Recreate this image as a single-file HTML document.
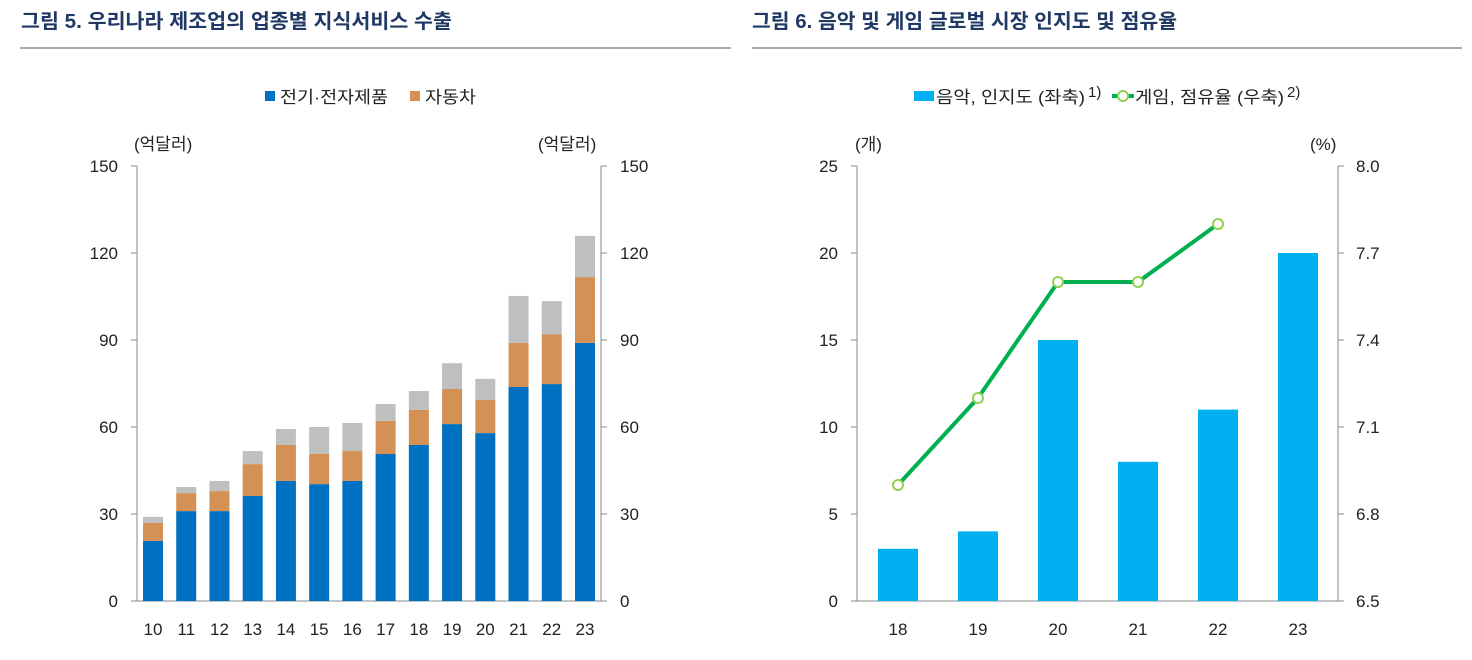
<!DOCTYPE html>
<html><head><meta charset="utf-8"><style>
body{margin:0;background:#fff;width:1472px;height:655px;overflow:hidden;font-family:"Liberation Sans","Noto Sans CJK KR",sans-serif}
svg text{font-family:"Liberation Sans","Noto Sans CJK KR",sans-serif}
</style></head><body>
<svg width="1472" height="655">
<text x="21" y="28" font-size="20" font-weight="bold" fill="#1f3864" textLength="431" lengthAdjust="spacingAndGlyphs">그림 5. 우리나라 제조업의 업종별 지식서비스 수출</text>
<line x1="20" y1="48" x2="731" y2="48" stroke="#555" stroke-width="1"/>
<text x="752" y="28" font-size="20" font-weight="bold" fill="#1f3864" textLength="425" lengthAdjust="spacingAndGlyphs">그림 6. 음악 및 게임 글로벌 시장 인지도 및 점유율</text>
<line x1="752" y1="48" x2="1462" y2="48" stroke="#555" stroke-width="1"/>
<g id="c5"></g><g id="c6"></g>
</svg>
<script>
const cats5=["10","11","12","13","14","15","16","17","18","19","20","21","22","23"];
const elec=[20.7,31,31,36.2,41.4,40.3,41.4,50.7,53.8,61,57.9,73.8,74.8,89];
const auto=[6.2,6.2,6.9,11,12.4,10.4,10.3,11.4,12.1,12.1,11.4,15.2,17.2,22.7];
const other=[2.1,2.1,3.5,4.5,5.5,9.3,9.7,5.8,6.5,8.9,7.3,16.2,11.4,14.2];
const ticks5=[0,30,60,90,120,150];
const cats6=["18","19","20","21","22","23"];
const music=[3,4,15,8,11,20];
const game=[6.9,7.2,7.6,7.6,7.8,null];
const ticksL6=[0,5,10,15,20,25];
const ticksR6=["6.5","6.8","7.1","7.4","7.7","8.0"];
const NS="http://www.w3.org/2000/svg";
function mk(p,t,a,txt){const e=document.createElementNS(NS,t);for(const k in a)e.setAttribute(k,a[k]);if(txt!==undefined)e.textContent=txt;p.appendChild(e);return e;}
const y0=601,y1=166;
const g5=document.getElementById('c5');
const yS5=v=>y0-(v/150)*(y0-y1);
const xS5=i=>153+i*(585-153)/13;
let e;
mk(g5,'line',{x1:137,y1:y1,x2:137,y2:y0,stroke:'#888'});
mk(g5,'line',{x1:601,y1:y1,x2:601,y2:y0,stroke:'#888'});
mk(g5,'line',{x1:137,y1:y0,x2:601,y2:y0,stroke:'#888'});
ticks5.forEach(t=>{const y=yS5(t);
mk(g5,'line',{x1:131,y1:y,x2:137,y2:y,stroke:'#888'});mk(g5,'line',{x1:601,y1:y,x2:607,y2:y,stroke:'#888'});
e=mk(g5,'text',{x:118,y:y+6,'font-size':17,'text-anchor':'end',fill:'#222'},t);

e=mk(g5,'text',{x:620,y:y+6,'font-size':17,fill:'#222'},t);
});
mk(g5,'text',{x:134,y:150,'font-size':17,fill:'#222'},'(억달러)');
mk(g5,'text',{x:538,y:150,'font-size':17,fill:'#222'},'(억달러)');
cats5.forEach((c,i)=>{const x=xS5(i),w=20;
const a=elec[i],b=a+auto[i],d=b+other[i];
e=mk(g5,'rect',{x:x-w/2,y:yS5(a),width:w,height:y0-yS5(a),fill:'#0070c0'});
e=mk(g5,'rect',{x:x-w/2,y:yS5(b),width:w,height:yS5(a)-yS5(b),fill:'#d39155'});
e=mk(g5,'rect',{x:x-w/2,y:yS5(d),width:w,height:yS5(b)-yS5(d),fill:'#bfbfbf'});
e=mk(g5,'text',{x:x,y:635,'font-size':17,'text-anchor':'middle',fill:'#222'},c);});
mk(g5,'rect',{x:265,y:91,width:10,height:10,fill:'#0070c0'});
mk(g5,'text',{x:280,y:103,'font-size':17,fill:'#222',textLength:108,lengthAdjust:'spacingAndGlyphs'},'전기·전자제품');
mk(g5,'rect',{x:410,y:91,width:10,height:10,fill:'#d39155'});
mk(g5,'text',{x:425,y:103,'font-size':17,fill:'#222',textLength:51,lengthAdjust:'spacingAndGlyphs'},'자동차');
const g6=document.getElementById('c6');
const yL=v=>y0-(v/25)*(y0-y1);
const yR=v=>y0-((v-6.5)/1.5)*(y0-y1);
const xS6=i=>898+i*80;
mk(g6,'line',{x1:857,y1:y1,x2:857,y2:y0,stroke:'#888'});
mk(g6,'line',{x1:1338,y1:y1,x2:1338,y2:y0,stroke:'#888'});
mk(g6,'line',{x1:857,y1:y0,x2:1338,y2:y0,stroke:'#888'});
ticksL6.forEach((t,k)=>{const y=yL(t);
mk(g6,'line',{x1:851,y1:y,x2:857,y2:y,stroke:'#888'});mk(g6,'line',{x1:1338,y1:y,x2:1344,y2:y,stroke:'#888'});
e=mk(g6,'text',{x:838,y:y+6,'font-size':17,'text-anchor':'end',fill:'#222'},t);
e=mk(g6,'text',{x:1356,y:y+6,'font-size':17,fill:'#222'},ticksR6[k]);});
mk(g6,'text',{x:855,y:150,'font-size':17,fill:'#222'},'(개)');
mk(g6,'text',{x:1310,y:150,'font-size':17,fill:'#222'},'(%)');
cats6.forEach((c,i)=>{const x=xS6(i);
e=mk(g6,'rect',{x:x-20,y:yL(music[i]),width:40,height:y0-yL(music[i]),fill:'#00b0f0'});
e=mk(g6,'text',{x:x,y:635,'font-size':17,'text-anchor':'middle',fill:'#222'},c);});
const pts=game.map((v,i)=>v==null?null:[xS6(i),yR(v)]).filter(p=>p);
e=mk(g6,'polyline',{points:pts.map(p=>p.join(',')).join(' '),fill:'none',stroke:'#00b050','stroke-width':4});

pts.forEach(p=>{e=mk(g6,'circle',{cx:p[0],cy:p[1],r:5,fill:'#fff',stroke:'#92d050','stroke-width':2});});
mk(g6,'rect',{x:914,y:91,width:20,height:10,fill:'#00b0f0'});
mk(g6,'text',{x:936,y:103,'font-size':17,fill:'#222',textLength:149,lengthAdjust:'spacingAndGlyphs'},'음악, 인지도 (좌축)');
mk(g6,'text',{x:1088,y:97,'font-size':15,fill:'#222'},'1)');
mk(g6,'line',{x1:1112,y1:96,x2:1134,y2:96,stroke:'#00b050','stroke-width':4});
mk(g6,'circle',{cx:1123,cy:96,r:5,fill:'#fff',stroke:'#92d050','stroke-width':2});
mk(g6,'text',{x:1135,y:103,'font-size':17,fill:'#222',textLength:149,lengthAdjust:'spacingAndGlyphs'},'게임, 점유율 (우축)');
mk(g6,'text',{x:1287,y:97,'font-size':15,fill:'#222'},'2)');
</script>
</body></html>
